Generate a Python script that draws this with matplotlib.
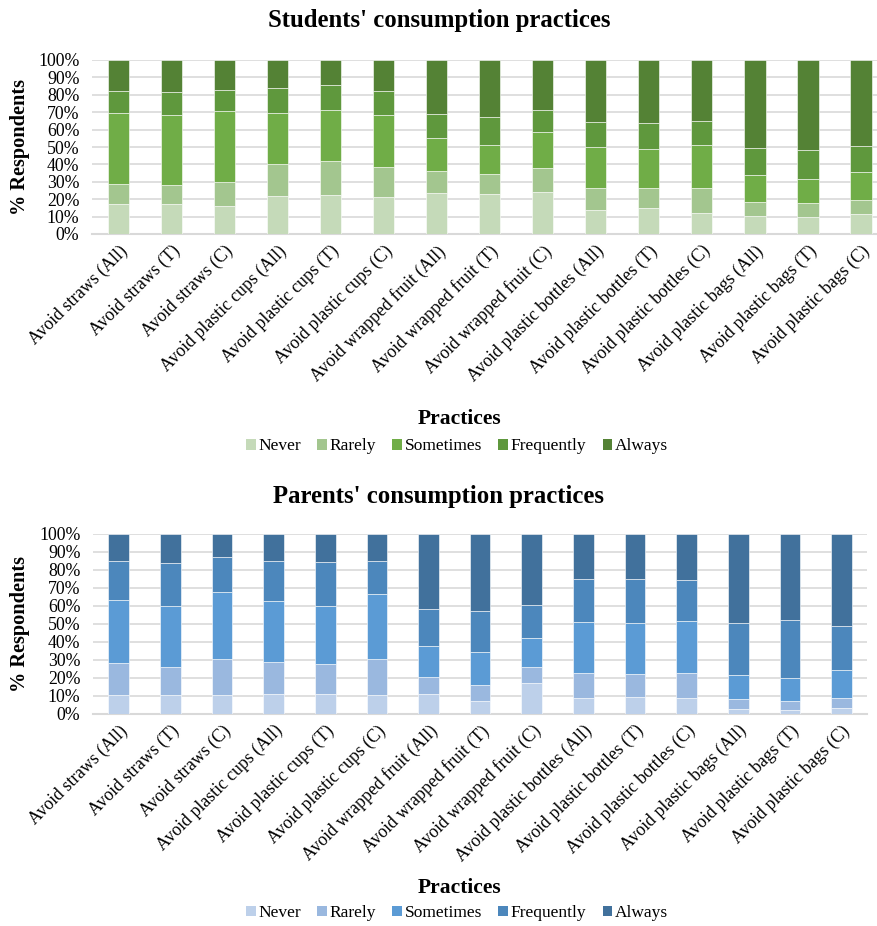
import numpy as np
import matplotlib
matplotlib.use("Agg")
import matplotlib.pyplot as plt
from matplotlib.patches import Patch
from matplotlib.ticker import PercentFormatter

plt.rcParams['font.family'] = ['Liberation Serif', 'DejaVu Serif']

practices = [
    "Avoid straws (All)", "Avoid straws (T)", "Avoid straws (C)",
    "Avoid plastic cups (All)", "Avoid plastic cups (T)", "Avoid plastic cups (C)",
    "Avoid wrapped fruit (All)", "Avoid wrapped fruit (T)", "Avoid wrapped fruit (C)",
    "Avoid plastic bottles (All)", "Avoid plastic bottles (T)", "Avoid plastic bottles (C)",
    "Avoid plastic bags (All)", "Avoid plastic bags (T)", "Avoid plastic bags (C)",
]
levels = ["Never", "Rarely", "Sometimes", "Frequently", "Always"]

# students, % of respondents per answer
stu_never = [17.0, 17.5, 16.3, 22.0, 22.6, 21.3, 23.8, 23.0, 24.3, 14.0, 15.1, 12.3, 10.5, 9.8, 11.7]
stu_rarely = [12.0, 10.9, 13.6, 18.4, 19.5, 17.2, 12.4, 11.5, 13.8, 12.6, 11.5, 14.3, 7.9, 7.8, 8.0]
stu_sometimes = [40.5, 39.8, 40.8, 29.3, 29.2, 29.9, 19.2, 16.5, 20.5, 23.2, 22.3, 24.5, 15.7, 14.0, 15.7]
stu_frequently = [12.5, 13.2, 11.9, 14.2, 14.5, 13.8, 13.6, 16.2, 12.5, 14.4, 14.9, 13.8, 15.1, 16.7, 15.2]
stu_always = [18.0, 18.6, 17.4, 16.1, 14.2, 17.8, 31.0, 32.8, 28.9, 35.8, 36.2, 35.1, 50.8, 51.7, 49.4]

# parents
par_never = [10.4, 10.2, 10.4, 10.9, 10.9, 10.4, 10.9, 6.9, 17.0, 8.9, 9.3, 8.7, 2.8, 2.0, 3.0]
par_rarely = [17.6, 15.7, 20.0, 18.0, 16.9, 19.8, 9.5, 9.0, 8.9, 13.7, 12.9, 14.1, 5.2, 5.0, 5.7]
par_sometimes = [35.0, 33.9, 37.0, 33.5, 31.8, 36.3, 17.0, 18.4, 16.0, 28.1, 28.2, 28.5, 13.3, 12.6, 15.4]
par_frequently = [21.8, 23.7, 19.5, 22.4, 24.8, 18.3, 20.6, 22.6, 18.3, 23.9, 24.2, 22.8, 29.1, 32.3, 24.4]
par_always = [15.2, 16.5, 13.1, 15.2, 15.6, 15.2, 42.0, 43.1, 39.8, 25.4, 25.4, 25.9, 49.6, 48.1, 51.5]

greens = ['#C5DAB9', '#A3C68F', '#70AD47', '#5F983D', '#548235']
blues = ['#BDD0EA', '#9AB8DF', '#5B9BD5', '#4C87BC', '#41719C']

W, H = 878, 926


def stacked_chart(fig, rect, series, colors, title, title_y, legend_y, xlabel_y):
    ax = fig.add_axes(rect)
    x = np.arange(len(practices))
    bottom = np.zeros(len(practices))
    for vals, c in zip(series, colors):
        vals = np.array(vals)
        ax.bar(x, vals, 0.4, bottom=bottom, color=c, edgecolor='white',
               linewidth=0.4, zorder=3)
        bottom += vals
    ax.set_xlim(-0.5, len(practices) - 0.5)
    ax.set_ylim(0, 100)
    ax.set_yticks(np.arange(0, 101, 10))
    ax.yaxis.set_major_formatter(PercentFormatter(decimals=0))
    ax.grid(axis='y', color='#D9D9D9', linewidth=1.2, zorder=0)
    for s in ['top', 'right', 'left']:
        ax.spines[s].set_visible(False)
    ax.spines['bottom'].set_color('#D9D9D9')
    ax.spines['bottom'].set_linewidth(1.5)
    ax.tick_params(axis='both', length=0, labelsize=12.8)
    ax.tick_params(axis='y', pad=9)
    ax.tick_params(axis='x', pad=6)
    ax.set_xticks(x)
    ax.set_xticklabels(practices, rotation=45, ha='right', rotation_mode='anchor')

    fig.text(0.5, title_y, title, ha='center', va='center', fontsize=17.8,
             fontweight='bold')
    y_mid = rect[1] + rect[3] / 2
    fig.text(20 / W, y_mid, '% Respondents', rotation=90, ha='center',
             va='center', fontsize=14.6, fontweight='bold')
    fig.text(460 / W, xlabel_y, 'Practices', ha='center', va='center',
             fontsize=15.5, fontweight='bold')
    handles = [Patch(facecolor=c, label=l) for c, l in zip(colors, levels)]
    fig.legend(handles=handles, loc='center', bbox_to_anchor=(457 / W, legend_y),
               ncol=5, frameon=False, fontsize=12.5, handlelength=0.55,
               handleheight=0.55, handletextpad=0.15, columnspacing=0.95)
    return ax


fig = plt.figure(figsize=(W / 100, H / 100), dpi=100)

stacked_chart(fig, [92 / W, 1 - 234 / H, 795.5 / W, 174 / H],
              [stu_never, stu_rarely, stu_sometimes, stu_frequently, stu_always],
              greens, "Students' consumption practices",
              1 - 20 / H, 1 - 446.5 / H, 1 - 419 / H)

stacked_chart(fig, [93 / W, 1 - 713.7 / H, 774.3 / W, 180 / H],
              [par_never, par_rarely, par_sometimes, par_frequently, par_always],
              blues, "Parents' consumption practices",
              1 - 496 / H, 1 - 913 / H, 1 - 888 / H)

fig.savefig('out.png', dpi=100)
